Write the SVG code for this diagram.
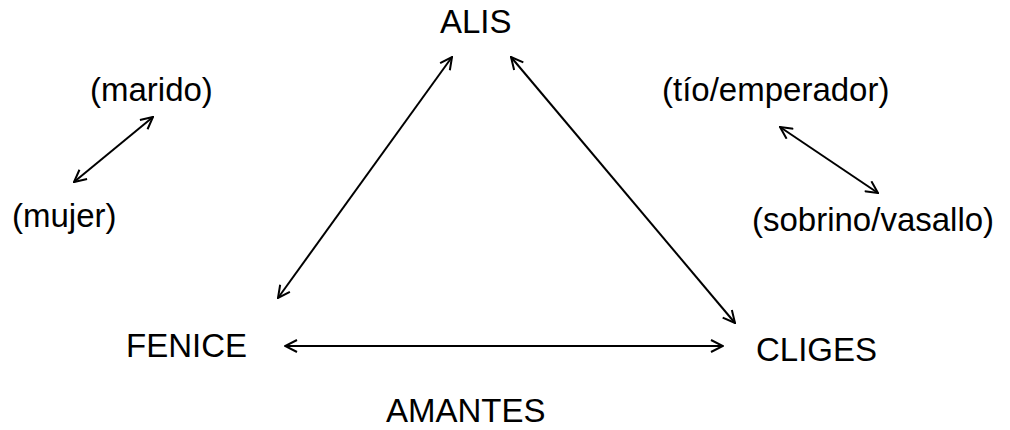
<svg xmlns="http://www.w3.org/2000/svg" width="1010" height="430" viewBox="0 0 1010 430">
<style>
text{font-family:"Liberation Sans",Arial,sans-serif;font-size:33px;fill:#000}
.c line{stroke:#000;stroke-width:2;fill:none;marker-start:url(#ah);marker-end:url(#ah)}
</style>
<defs>
<marker id="ah" viewBox="0 0 14 14" refX="13" refY="7" markerWidth="14" markerHeight="14" markerUnits="userSpaceOnUse" orient="auto-start-reverse">
<path d="M1,1 L13,7 L1,13" fill="none" stroke="#000" stroke-width="2" stroke-linejoin="miter"/>
</marker>
</defs>
<rect width="1010" height="430" fill="#fff"/>
<g id="alis"><text x="440" y="33" font-size="31">ALIS</text></g>
<g id="fenice"><text x="126" y="357">FENICE</text></g>
<g id="cliges"><text x="756" y="361">CLIGES</text></g>
<g id="amantes"><text x="386" y="422">AMANTES</text></g>
<g id="marido"><text x="90" y="101">(marido)</text></g>
<g id="mujer"><text x="12" y="227">(mujer)</text></g>
<g id="tio"><text x="662" y="101">(tío/emperador)</text></g>
<g id="sobrino"><text x="752" y="231">(sobrino/vasallo)</text></g>
<g id="connectors" class="c">
<line x1="278" y1="298" x2="452" y2="57"/>
<line x1="511" y1="57" x2="735" y2="323"/>
<line x1="285" y1="346" x2="723" y2="346"/>
<line x1="74" y1="182" x2="153" y2="117"/>
<line x1="780" y1="127" x2="878" y2="193"/>
</g>
</svg>
